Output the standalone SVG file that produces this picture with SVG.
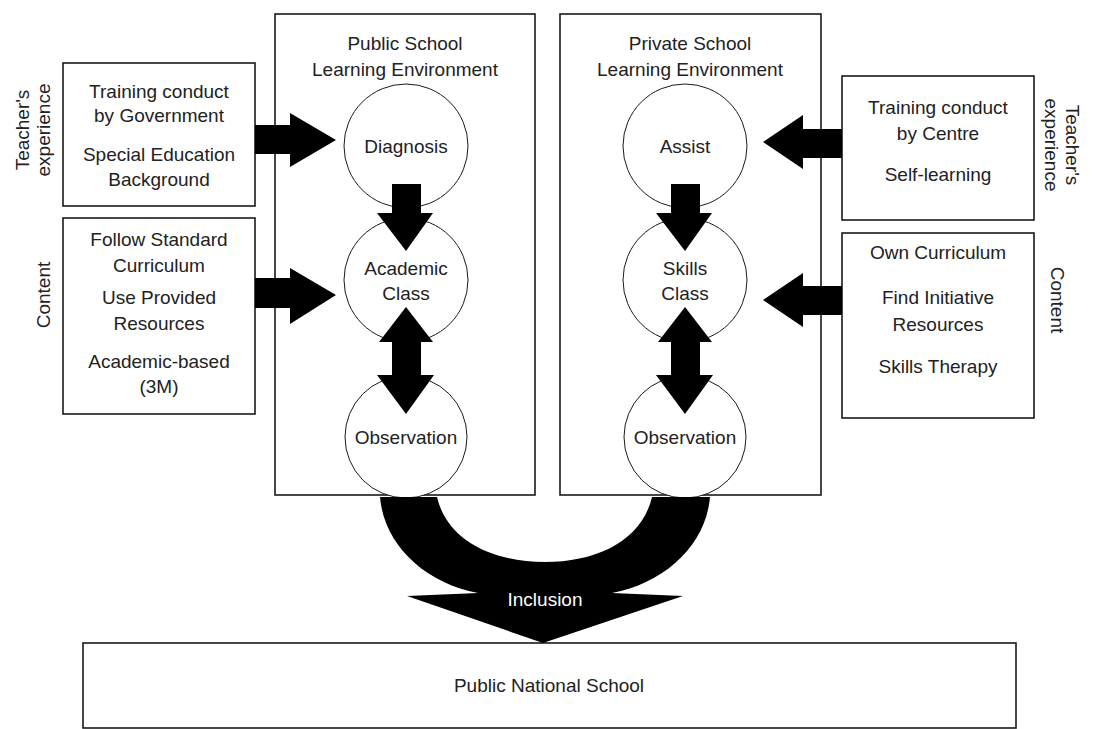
<svg xmlns="http://www.w3.org/2000/svg" width="1094" height="729" viewBox="0 0 1094 729">
  <style>
    .box { fill: none; stroke: #1a1a1a; stroke-width: 1.6; }
    .node { fill: #ffffff; stroke: #1a1a1a; stroke-width: 1; }
    .arrow { fill: #000000; stroke: none; }
    text { font-family: "Liberation Sans", Arial, sans-serif; font-size: 19px; fill: #222222; text-anchor: middle; }
    .inv { fill: #ffffff; }
  </style>
  <rect width="1094" height="729" fill="#ffffff"/>

  <!-- Learning environment panels -->
  <g id="public-env">
    <rect class="box" x="275" y="14" width="260" height="481"/>
    <text x="405" y="50">Public School</text>
    <text x="405" y="76">Learning Environment</text>
  </g>
  <g id="private-env">
    <rect class="box" x="560" y="14" width="261" height="481"/>
    <text x="690" y="50">Private School</text>
    <text x="690" y="76">Learning Environment</text>
  </g>

  <!-- Public side stages -->
  <g id="diagnosis">
    <circle class="node" cx="406" cy="146" r="62"/>
    <text x="406" y="153">Diagnosis</text>
  </g>
  <g id="academic-class">
    <circle class="node" cx="406" cy="280" r="62"/>
    <text x="406" y="275">Academic</text>
    <text x="406" y="300">Class</text>
  </g>
  <g id="public-observation">
    <circle class="node" cx="406" cy="437" r="61"/>
    <text x="406" y="444">Observation</text>
  </g>

  <!-- Private side stages -->
  <g id="assist">
    <circle class="node" cx="685" cy="146" r="62"/>
    <text x="685" y="153">Assist</text>
  </g>
  <g id="skills-class">
    <circle class="node" cx="685" cy="280" r="62"/>
    <text x="685" y="275">Skills</text>
    <text x="685" y="300">Class</text>
  </g>
  <g id="private-observation">
    <circle class="node" cx="685" cy="437" r="61"/>
    <text x="685" y="444">Observation</text>
  </g>

  <!-- Public side inputs -->
  <g id="public-teacher">
    <rect class="box" x="63" y="63" width="192" height="143"/>
    <text x="159" y="98">Training conduct</text>
    <text x="159" y="122">by Government</text>
    <text x="159" y="161">Special Education</text>
    <text x="159" y="186">Background</text>
    <text transform="translate(29 130) rotate(-90)">Teacher's</text>
    <text transform="translate(50 130) rotate(-90)">experience</text>
  </g>
  <g id="public-content">
    <rect class="box" x="63" y="218" width="192" height="196"/>
    <text x="159" y="246">Follow Standard</text>
    <text x="159" y="272">Curriculum</text>
    <text x="159" y="304">Use Provided</text>
    <text x="159" y="330">Resources</text>
    <text x="159" y="368">Academic-based</text>
    <text x="159" y="393">(3M)</text>
    <text transform="translate(50 295) rotate(-90)">Content</text>
  </g>

  <!-- Private side inputs -->
  <g id="private-teacher">
    <rect class="box" x="842" y="76" width="192" height="144"/>
    <text x="938" y="114">Training conduct</text>
    <text x="938" y="140">by Centre</text>
    <text x="938" y="181">Self-learning</text>
    <text transform="translate(1066 145) rotate(90)">Teacher's</text>
    <text transform="translate(1045 145) rotate(90)">experience</text>
  </g>
  <g id="private-content">
    <rect class="box" x="842" y="233" width="192" height="185"/>
    <text x="938" y="259">Own Curriculum</text>
    <text x="938" y="304">Find Initiative</text>
    <text x="938" y="331">Resources</text>
    <text x="938" y="373">Skills Therapy</text>
    <text transform="translate(1051 300) rotate(90)">Content</text>
  </g>

  <!-- Outcome -->
  <g id="national-school">
    <rect class="box" x="83" y="643" width="933" height="85"/>
    <text x="549" y="692">Public National School</text>
  </g>

  <!-- Block arrows -->
  <g id="connectors">
    <!-- inputs into public stages -->
    <polygon class="arrow" points="255,125 290,125 290,113 336,140 290,167 290,154 255,154"/>
    <polygon class="arrow" points="255,278 290,278 290,268 336,295 290,324 290,308 255,308"/>
    <!-- inputs into private stages -->
    <polygon class="arrow" points="842,129 803,129 803,115 763,142 803,169 803,158 842,158"/>
    <polygon class="arrow" points="842,286 803,286 803,273 763,300 803,327 803,315 842,315"/>
    <!-- diagnosis to academic class -->
    <polygon class="arrow" points="392,184 421,184 421,213 433,213 406,251 377,213 392,213"/>
    <!-- assist to skills class -->
    <polygon class="arrow" points="671,184 700,184 700,213 712,213 685,251 656,213 671,213"/>
    <!-- class <-> observation, both sides -->
    <polygon class="arrow" points="406,307 433,342 421,342 421,375 434,375 406,414 377,375 392,375 392,342 379,342"/>
    <polygon class="arrow" points="685,307 712,342 700,342 700,375 713,375 685,414 656,375 671,375 671,342 658,342"/>
    <!-- inclusion: both observations merge into the national school -->
    <path class="arrow" d="M 380 497 C 384 545 425 583 478 593 L 407 596 L 543 643 L 683 596 L 612 593 C 665 583 706 545 710 497 L 652 497 C 642 540 598 562 545 562 C 492 562 447 540 437 497 Z"/>
    <text class="inv" x="545" y="606">Inclusion</text>
  </g>
</svg>
